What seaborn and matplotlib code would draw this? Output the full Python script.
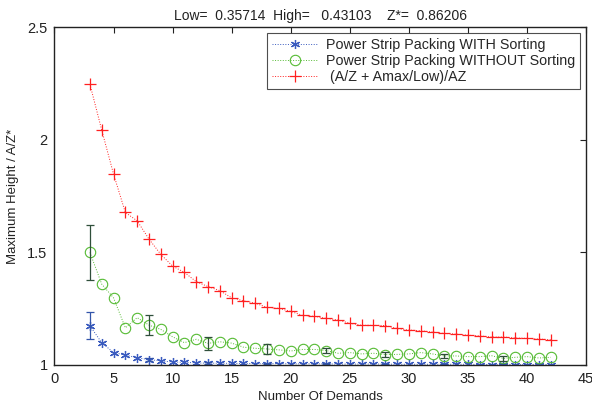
import numpy as np
import pandas as pd
import matplotlib
matplotlib.use('Agg')
import matplotlib.pyplot as plt
import seaborn as sns

demands = list(range(3, 43))

with_sorting = [1.174, 1.099, 1.055, 1.044, 1.032, 1.024, 1.018, 1.013, 1.012, 1.009,
                1.008, 1.008, 1.007, 1.007, 1.006, 1.006, 1.006, 1.005, 1.005, 1.005,
                1.005, 1.004, 1.004, 1.004, 1.004, 1.004, 1.003, 1.003, 1.003, 1.003,
                1.003, 1.003, 1.003, 1.002, 1.002, 1.002, 1.002, 1.002, 1.002, 1.002]

without_sorting = [1.500, 1.359, 1.298, 1.165, 1.210, 1.177, 1.158, 1.125, 1.099, 1.114,
                   1.096, 1.103, 1.097, 1.079, 1.074, 1.071, 1.067, 1.062, 1.069, 1.069,
                   1.064, 1.052, 1.055, 1.049, 1.052, 1.046, 1.047, 1.049, 1.055, 1.049,
                   1.040, 1.040, 1.037, 1.037, 1.041, 1.029, 1.034, 1.037, 1.031, 1.034]

bound = [2.247, 2.043, 1.848, 1.677, 1.640, 1.559, 1.491, 1.439, 1.411, 1.370,
         1.348, 1.330, 1.298, 1.285, 1.274, 1.256, 1.251, 1.238, 1.220, 1.216,
         1.207, 1.200, 1.185, 1.176, 1.176, 1.175, 1.162, 1.155, 1.152, 1.146,
         1.140, 1.137, 1.132, 1.129, 1.124, 1.124, 1.120, 1.118, 1.115, 1.112]

err_x = [3, 8, 13, 18, 23, 28, 33, 38]
err_with = [0.060, 0.006, 0.003, 0.002, 0.002, 0.002, 0.002, 0.002]
err_without = [0.122, 0.044, 0.028, 0.021, 0.013, 0.012, 0.008, 0.012]

title = 'Low=  0.35714  High=   0.43103    Z*=  0.86206'
labels = ['Power Strip Packing WITH Sorting',
          'Power Strip Packing WITHOUT Sorting',
          ' (A/Z + Amax/Low)/AZ']

sns.set_style('white')
plt.rcParams['font.family'] = ['Liberation Sans', 'DejaVu Sans']

df = pd.DataFrame({'demands': demands, 'with': with_sorting,
                   'without': without_sorting, 'bound': bound})

fig, ax = plt.subplots(figsize=(5.92, 4.11), dpi=100)
fig.subplots_adjust(left=0.092, right=0.990, top=0.934, bottom=0.112)

blue = '#3a5bbf'
green = '#55bb33'
red = '#ff2020'

sns.lineplot(data=df, x='demands', y='with', ax=ax, color=blue, linestyle=':',
             linewidth=0.7, marker=(6, 2, 0), markersize=6.5, markeredgewidth=0.9,
             markeredgecolor=blue, label=labels[0])
sns.lineplot(data=df, x='demands', y='without', ax=ax, color=green, linestyle=':',
             linewidth=0.7, marker='o', markersize=7.5, markerfacecolor='none',
             markeredgewidth=0.8, markeredgecolor=green, label=labels[1])
sns.lineplot(data=df, x='demands', y='bound', ax=ax, color=red, linestyle=':',
             linewidth=0.7, marker='+', markersize=8, markeredgewidth=0.9,
             markeredgecolor=red, label=labels[2])

idx = [demands.index(v) for v in err_x]
ax.errorbar(err_x, [with_sorting[i] for i in idx], yerr=err_with, fmt='none',
            ecolor='#3355aa', elinewidth=0.9, capsize=3, capthick=0.9)
ax.errorbar(err_x, [without_sorting[i] for i in idx], yerr=err_without, fmt='none',
            ecolor='#2f4f3a', elinewidth=0.9, capsize=3, capthick=0.9)

ax.set_xlim(0, 45)
ax.set_ylim(1, 2.5)
ax.set_xticks(np.arange(0, 46, 5))
ax.set_yticks([1, 1.5, 2, 2.5])
ax.set_yticklabels(['1', '1.5', '2', '2.5'])
ax.tick_params(direction='in', length=4, width=0.8, top=True, right=True,
               labelsize=10.5, pad=5, colors='#222222')
for s in ax.spines.values():
    s.set_color('#222222')
    s.set_linewidth(1.0)

ax.set_xlabel('Number Of Demands', fontsize=9.5, labelpad=4, color='#222222')
ax.set_ylabel('Maximum Height / A/Z*', fontsize=9.5, labelpad=6, color='#222222')
ax.set_title(title, fontsize=10, pad=5, color='#222222')

leg = ax.legend(loc='upper right', fontsize=10.3, frameon=True, fancybox=False,
                borderpad=0.35, labelspacing=0.15, handlelength=3.2,
                handletextpad=0.6, borderaxespad=0.4)
leg.get_frame().set_edgecolor('#222222')
leg.get_frame().set_linewidth(0.8)

fig.savefig('out.png', dpi=100)
